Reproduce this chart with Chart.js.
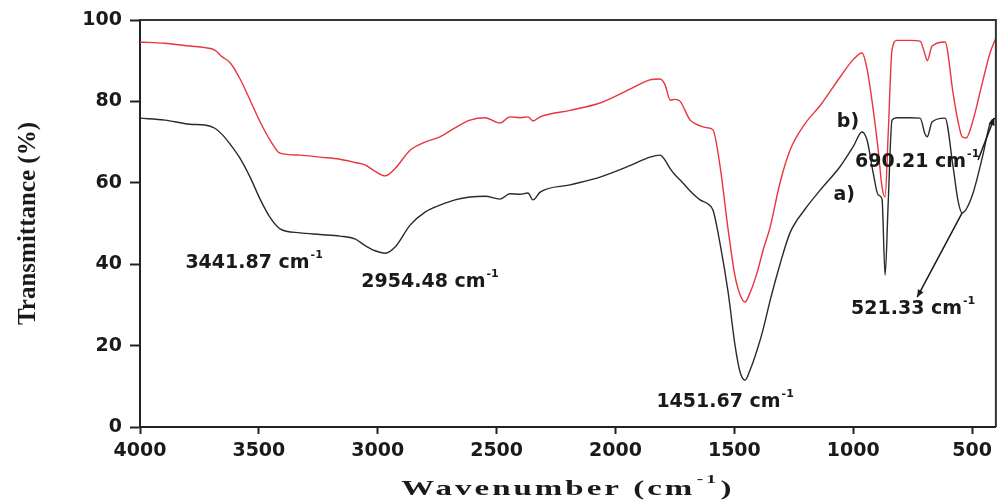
<!DOCTYPE html>
<html>
<head>
<meta charset="utf-8">
<script src="https://cdn.jsdelivr.net/npm/chart.js@4.4.0/dist/chart.umd.min.js"></script>
<style>
    html, body { margin: 0; padding: 0; background: #fff; }
    #wrap { width: 998px; height: 502px; }
</style>
</head>
<body>
<div id="wrap"><canvas id="ftirChart"></canvas></div>
<script>
const wavenumbers = [
    4000, 3895, 3790, 3727, 3685, 3655, 3621, 3579, 3537, 3495,
    3453, 3411, 3327, 3243, 3159, 3096, 3054, 3011, 2969, 2927,
    2864, 2801, 2738, 2675, 2612, 2549, 2486, 2444, 2401, 2368,
    2347, 2317, 2191, 2065, 1939, 1855, 1812, 1791, 1770, 1749,
    1728, 1686, 1644, 1611, 1590, 1560, 1526, 1497, 1476, 1455,
    1434, 1404, 1379, 1350, 1308, 1266, 1203, 1139, 1055, 1001,
    963, 942, 916, 895, 879, 866, 853, 837, 816, 761,
    719, 698, 689, 668, 614, 580, 559, 542, 525, 496,
    454, 424, 400
];

// a) black trace, transmittance %
const sampleA = [
    75.9, 75.4, 74.4, 74.2, 73.4, 71.9, 69.5, 66.0, 61.4, 56.0,
    51.5, 48.7, 47.7, 47.3, 46.9, 46.2, 44.6, 43.3, 42.7, 44.2,
    49.6, 52.8, 54.5, 55.8, 56.5, 56.7, 56.0, 57.3, 57.2, 57.5,
    55.8, 57.7, 59.5, 61.4, 64.2, 66.3, 66.8, 65.5, 63.5, 61.9,
    60.7, 58.0, 55.8, 54.8, 53.3, 45.0, 33.0, 20.0, 13.5, 11.5,
    14.0, 19.0, 24.0, 31.0, 40.0, 47.7, 53.5, 58.2, 64.0, 68.8,
    72.5, 70.5, 62.4, 57.0, 56.0, 37.3, 55.0, 75.4, 76.0, 76.0,
    75.9, 72.0, 71.3, 75.0, 75.9, 63.9, 55.5, 52.6, 53.5, 57.5,
    67.0, 74.7, 76.0
];

// b) red trace, transmittance %
const sampleB = [
    94.6, 94.3, 93.6, 93.2, 92.6, 91.0, 89.5, 85.5, 80.3, 75.0,
    70.5, 67.3, 66.8, 66.3, 65.8, 65.0, 64.4, 62.8, 61.7, 63.5,
    68.0, 70.0, 71.3, 73.5, 75.4, 76.0, 74.7, 76.2, 76.0, 76.2,
    75.2, 76.2, 77.8, 79.6, 83.0, 85.3, 85.5, 84.0, 80.3, 80.5,
    80.0, 75.4, 74.0, 73.5, 73.0, 64.0, 48.4, 37.0, 32.5, 30.7,
    33.0, 38.0, 43.5, 49.0, 60.0, 68.0, 74.5, 79.0, 86.0, 90.2,
    91.9, 88.0, 78.0, 68.0, 59.0, 56.5, 72.0, 92.6, 95.0, 95.0,
    94.8, 91.5, 90.0, 93.6, 94.6, 82.0, 75.0, 71.3, 71.0, 75.4,
    85.3, 92.0, 95.6
];

const xTicks = [4000, 3500, 3000, 2500, 2000, 1500, 1000, 500];
const yTicks = [0, 20, 40, 60, 80, 100];

// peak labels (text + where they sit, in data units)
const peakLabels = [
    { text: "3441.87 cm", sup: "-1", wn: 3520, t: 40.3 },
    { text: "2954.48 cm", sup: "-1", wn: 2780, t: 35.6 },
    { text: "1451.67 cm", sup: "-1", wn: 1539, t: 6.1 },
    { text: "521.33 cm", sup: "-1", wn: 748, t: 29.0 },
    { text: "690.21 cm", sup: "-1", wn: 731, t: 65.1 },
    { text: "b)", sup: "", wn: 1022, t: 74.9 },
    { text: "a)", sup: "", wn: 1038, t: 57.0 }
];

const arrows = [
    { from: [542, 52.6], to: [731, 31.9] },
    { from: [475, 65.6], to: [407, 75.9] }
];

function toPoints(ys) {
    return wavenumbers.map((x, i) => ({ x: x, y: ys[i] }));
}

function drawSup(ctx, text, sup, cx, cy) {
    ctx.font = "bold 19px 'DejaVu Sans'";
    const w1 = ctx.measureText(text).width;
    ctx.font = "bold 11px 'DejaVu Sans'";
    const w2 = sup ? ctx.measureText(sup).width + 1 : 0;
    const x0 = cx - (w1 + w2) / 2;
    ctx.font = "bold 19px 'DejaVu Sans'";
    ctx.fillText(text, x0, cy);
    if (sup) {
        ctx.font = "bold 11px 'DejaVu Sans'";
        ctx.fillText(sup, x0 + w1 + 1, cy - 8);
    }
}

const decorPlugin = {
    id: "decor",
    afterDraw(chart) {
        const ctx = chart.ctx;
        const area = chart.chartArea;
        const xs = chart.scales.x;
        const ys = chart.scales.y;

        ctx.save();
        // top + right frame
        ctx.strokeStyle = "#333";
        ctx.lineWidth = 2;
        ctx.beginPath();
        ctx.moveTo(area.left, area.top);
        ctx.lineTo(area.right, area.top);
        ctx.lineTo(area.right, area.bottom);
        ctx.stroke();

        // peak labels
        ctx.fillStyle = "#1a1a1a";
        ctx.textBaseline = "middle";
        ctx.textAlign = "left";
        peakLabels.forEach(p => {
            drawSup(ctx, p.text, p.sup, xs.getPixelForValue(p.wn), ys.getPixelForValue(p.t));
        });

        // arrows
        ctx.strokeStyle = "#1a1a1a";
        ctx.lineWidth = 1.5;
        arrows.forEach(a => {
            const x1 = xs.getPixelForValue(a.from[0]), y1 = ys.getPixelForValue(a.from[1]);
            const x2 = xs.getPixelForValue(a.to[0]), y2 = ys.getPixelForValue(a.to[1]);
            ctx.beginPath();
            ctx.moveTo(x1, y1);
            ctx.lineTo(x2, y2);
            ctx.stroke();
            const ang = Math.atan2(y2 - y1, x2 - x1);
            ctx.beginPath();
            ctx.moveTo(x2, y2);
            ctx.lineTo(x2 - 8 * Math.cos(ang - 0.4), y2 - 8 * Math.sin(ang - 0.4));
            ctx.lineTo(x2 - 8 * Math.cos(ang + 0.4), y2 - 8 * Math.sin(ang + 0.4));
            ctx.closePath();
            ctx.fill();
        });

        // x axis title, stretched like the original
        const cx = (area.left + area.right) / 2;
        ctx.translate(cx, 489);
        ctx.scale(1.5, 1);
        ctx.font = "bold 22px 'Liberation Serif'";
        ctx.letterSpacing = "2px";
        const main = "Wavenumber (cm";
        const wMain = ctx.measureText(main).width;
        ctx.font = "bold 13px 'Liberation Serif'";
        const wSup = ctx.measureText("-1").width;
        ctx.font = "bold 22px 'Liberation Serif'";
        const wEnd = ctx.measureText(")").width;
        let x0 = -(wMain + wSup + wEnd + 2) / 2;
        ctx.fillText(main, x0, 0);
        ctx.font = "bold 13px 'Liberation Serif'";
        ctx.fillText("-1", x0 + wMain + 1, -9);
        ctx.font = "bold 22px 'Liberation Serif'";
        ctx.fillText(")", x0 + wMain + wSup + 2, 0);
        ctx.restore();
    }
};

const tickFont = { family: "'DejaVu Sans'", size: 19, weight: "bold" };

new Chart(document.getElementById("ftirChart").getContext("2d"), {
    type: "line",
    data: {
        datasets: [{
            label: "a)",
            data: toPoints(sampleA),
            borderColor: "#2a2a2a",
            borderWidth: 1.4,
            pointRadius: 0,
            cubicInterpolationMode: "monotone",
            fill: false
        }, {
            label: "b)",
            data: toPoints(sampleB),
            borderColor: "#e8353f",
            borderWidth: 1.4,
            pointRadius: 0,
            cubicInterpolationMode: "monotone",
            fill: false
        }]
    },
    options: {
        responsive: true,
        maintainAspectRatio: false,
        animation: false,
        layout: { padding: { top: 20, right: 2, bottom: 0, left: 0 } },
        plugins: {
            legend: { display: false },
            tooltip: { enabled: false }
        },
        scales: {
            x: {
                type: "linear",
                reverse: true,
                min: 400,
                max: 4000,
                afterBuildTicks: scale => { scale.ticks = xTicks.map(v => ({ value: v })); },
                afterFit: scale => { scale.height = 75; },
                border: { display: true, color: "#222", width: 2 },
                grid: { drawOnChartArea: false, drawTicks: true, tickLength: 7, tickColor: "#222", tickWidth: 2 },
                ticks: { color: "#1a1a1a", font: tickFont, padding: 6, maxRotation: 0, callback: v => String(v) }
            },
            y: {
                min: 0,
                max: 100,
                afterBuildTicks: scale => { scale.ticks = yTicks.map(v => ({ value: v })); },
                afterFit: scale => { scale.width = 140; },
                border: { display: true, color: "#222", width: 2 },
                grid: { drawOnChartArea: false, drawTicks: true, tickLength: 10, tickColor: "#222", tickWidth: 2 },
                ticks: { color: "#1a1a1a", font: tickFont, padding: 8, callback: v => String(v) },
                title: {
                    display: true,
                    text: "Transmittance (%)",
                    color: "#1a1a1a",
                    font: { family: "'Liberation Serif'", size: 25, weight: "bold" },
                    padding: { top: 14, bottom: 0 }
                }
            }
        }
    },
    plugins: [decorPlugin]
});
</script>
</body>
</html>
